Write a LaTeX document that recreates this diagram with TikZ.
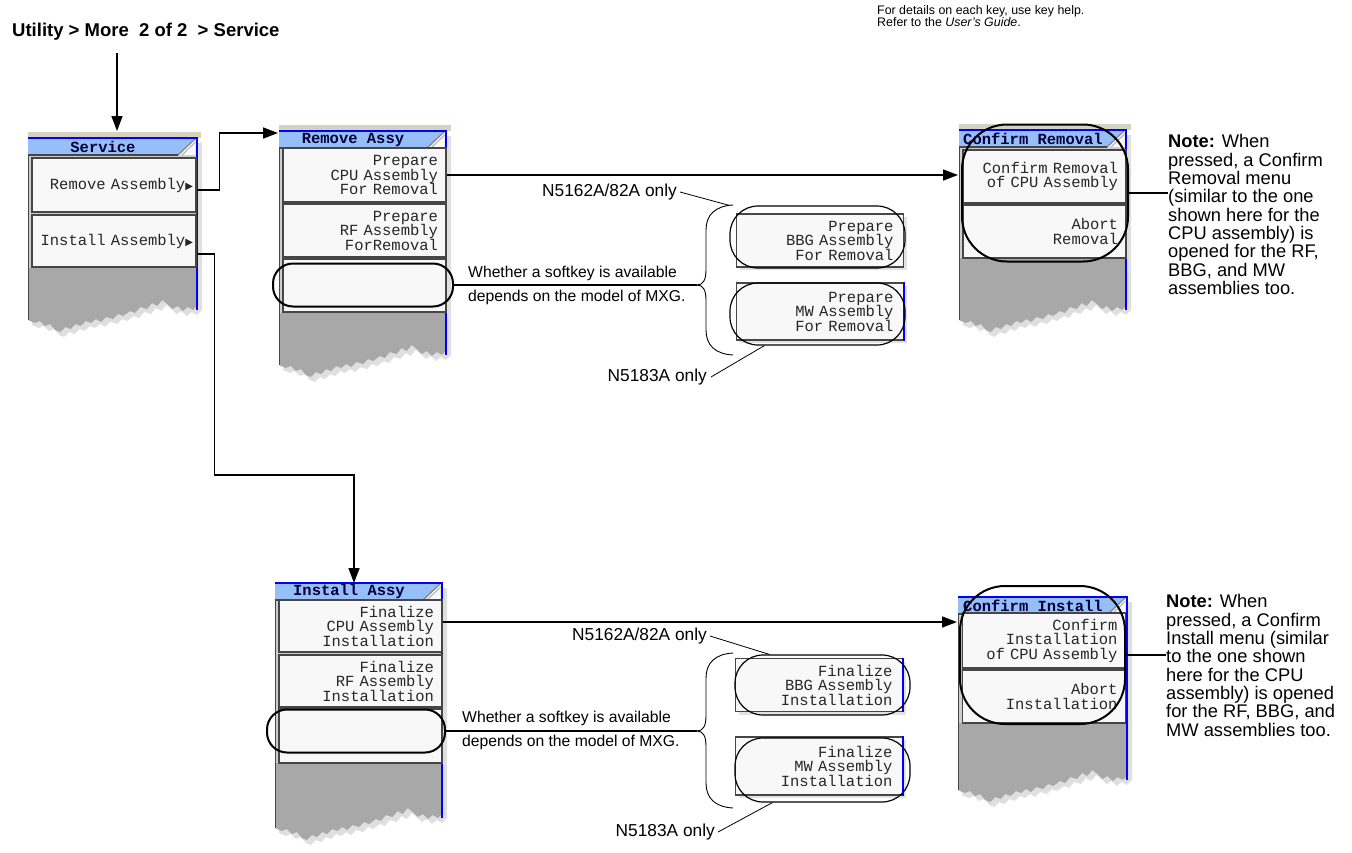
\documentclass[tikz,border=0pt]{standalone}
\usepackage{fontspec}
\setmainfont{Liberation Sans}
\newfontfamily\keyfont{Liberation Mono}
\newfontfamily\symfont{DejaVu Sans}
\usetikzlibrary{arrows.meta, positioning, shadows}

\definecolor{hdrblue}{RGB}{150,190,248}
\definecolor{keyblue}{RGB}{0,0,255}
\definecolor{keyface}{RGB}{248,248,248}
\definecolor{keyedge}{RGB}{70,70,70}
\definecolor{torngray}{RGB}{168,168,168}
\definecolor{topbeige}{RGB}{214,210,192}
\definecolor{framegray}{RGB}{205,205,205}
\definecolor{hdrtext}{RGB}{0,0,60}

% torn lower edge of a menu panel, right to left (fraction of width / offset)
\def\tornedge{1/-5,.97/0,.94/-3,.91/1,.88/-4,.85/-1,.82/-6,.79/-10,.76/-4,.73/-7,.7/-1,.66/-3,.63/3,.6/1,.56/6,.53/4,.5/9,.46/7,.43/12,.4/9,.37/13,.34/11,.31/16,.28/14,.25/19,.22/17,.19/22,.16/20,.13/14,.1/16,.07/11,.04/13,0/10}

\begin{document}
\begin{tikzpicture}[x=1pt,y=-1pt,
  conn/.style={line width=1.6pt},
  arr/.style={-{Triangle[length=15pt,width=11pt]}},
  leader/.style={line width=0.8pt},
  softkey/.style={rectangle, draw=keyedge, line width=1.2pt, fill=keyface,
    minimum width=163pt, minimum height=53pt, inner xsep=8pt, inner ysep=0pt,
    text width=147pt, align=right, text=black!85,
    font=\keyfont\fontsize{15.5}{14.5}\selectfont},
  svkey/.style={softkey, minimum width=164pt, text width=158pt, inner xsep=3pt},
  snip/.style={softkey, minimum width=167pt, text width=147pt, inner xsep=10pt,
    drop shadow={shadow xshift=3pt, shadow yshift=-3pt, fill=gray!45}},
  menutitle/.style={font=\keyfont\bfseries\fontsize{15.5}{15}\selectfont, text=hdrtext, inner sep=0pt},
  hilite/.style={rectangle, draw=black, line width=2pt, rounded corners=20pt},
  thinhilite/.style={rectangle, draw=black, line width=1.2pt, rounded corners=28pt,
    minimum width=175pt, minimum height=62pt},
  remark/.style={font=\fontsize{15.7}{18}\selectfont, inner sep=0pt, anchor=west},
  modelnote/.style={font=\fontsize{17.3}{20}\selectfont, inner sep=0pt, anchor=east},
  notetext/.style={font=\fontsize{18.3}{18.3}\selectfont, align=left, inner sep=0pt, anchor=north west}
]
\useasboundingbox (0,0) rectangle (1352,852);

% beige strip above the upper menus
\foreach \xl/\xr/\yh in {28/201/138, 279/451/131, 959/1131/130}
  \fill[topbeige] (\xl,\yh-6) rectangle (\xr,\yh);

% menu panels: left, right, title top, grey top, torn bottom
\foreach \xl/\xr/\yh/\yg/\yb in {28/198/138/268/310, 279/447/131/313/355, 959/1127/130/258/310, 275/443/583/763/818, 958/1128/597/723/780} {
  \fill[gray!25, shift={(4,5)}] (\xl,\yh) -- (\xr,\yh) \foreach \u/\v in \tornedge { -- ({\xl+\u*(\xr-\xl)},{\yb+\v}) } -- cycle;
  \fill[framegray] (\xl,\yh) rectangle (\xr,\yg);
  \fill[torngray] (\xl,\yg) -- (\xr,\yg) \foreach \u/\v in \tornedge { -- ({\xl+\u*(\xr-\xl)},{\yb+\v}) } -- cycle;
  \draw[keyedge, line width=1pt] (\xl,\yh) -- (\xl,\yb+10);
  \draw[keyblue, line width=2.5pt] (\xr-1.25,\yh) -- (\xr-1.25,\yb);
  \fill[hdrblue] (\xl,\yh) -- (\xr-3,\yh) -- (\xr-20,\yh+17) -- (\xl,\yh+17) -- cycle;
  \fill[keyface] (\xr-3,\yh) -- (\xr-2.5,\yh) -- (\xr-2.5,\yh+17) -- (\xr-20,\yh+17) -- cycle;
  \draw[gray, line width=1.2pt] (\xr-3,\yh+1) -- (\xr-20,\yh+17);
  \draw[gray!60, line width=1pt] (\xr-2.5,\yh+4) -- (\xr-16,\yh+17);
  \draw[keyedge, line width=1.2pt] (\xl,\yh+17) -- (\xr-20,\yh+17);
  \draw[keyblue, line width=1.5pt] (\xl,\yh) -- (\xr,\yh);
}

% menu titles
\node[menutitle] (svHdr) at (103,146.5) {Service};
\node[menutitle] (rmHdr) at (353,139.5) {Remove Assy};
\node[menutitle] (crHdr) at (1033,138.5) {Confirm Removal};
\node[menutitle] (isHdr) at (349,591.5) {Install Assy};
\node[menutitle] (ciHdr) at (1033,605.5) {Confirm Install};

% softkeys
\node[svkey, minimum height=54pt] (svRemove) at (114,185) {Remove Assembly{\symfont\fontsize{10}{10}\selectfont ▶}};
\node[svkey, minimum height=52pt] (svInstall) at (114,241) {Install Assembly{\symfont\fontsize{10}{10}\selectfont ▶}};

\node[softkey, minimum height=54pt] (rmCPU) at (364.5,175) {Prepare\\CPU Assembly\\For Removal};
\node[softkey] (rmRF) at (364.5,230.5) {Prepare\\RF Assembly\\ForRemoval};
\node[softkey] (rmBlank) at (364.5,285.5) {};

\node[softkey] (crConfirm) at (1044.5,176.5) {Confirm Removal\\of CPU Assembly};
\node[softkey] (crAbort) at (1044.5,231.5) {Abort\\Removal};

\node[softkey, minimum height=52pt] (isCPU) at (360.5,626) {Finalize\\CPU Assembly\\Installation};
\node[softkey, minimum height=52pt] (isRF) at (360.5,681) {Finalize\\RF Assembly\\Installation};
\node[softkey, minimum height=54pt] (isBlank) at (360.5,736) {};

\node[softkey, minimum height=55pt] (ciConfirm) at (1044,640.5) {Confirm\\Installation\\of CPU Assembly};
\node[softkey] (ciAbort) at (1044,696.5) {Abort\\Installation};

% optional softkeys
\node[snip] (rmBBG) at (820,240.5) {Prepare\\BBG Assembly\\For Removal};
\node[snip, minimum height=57pt] (rmMW) at (820,311.5) {Prepare\\MW Assembly\\For Removal};
\node[snip] (isBBG) at (819,685) {Finalize\\BBG Assembly\\Installation};
\node[snip, minimum height=58pt] (isMW) at (819,766) {Finalize\\MW Assembly\\Installation};
\foreach \k in {rmMW, isBBG, isMW}
  \draw[keyblue, line width=1.5pt] (\k.north east) -- (\k.south east);

% highlight rings
\node[hilite, minimum width=180pt, minimum height=43pt] (rmOval) at (363,285) {};
\node[hilite, minimum width=178pt, minimum height=43pt] (isOval) at (356,731) {};
\node[thinhilite] (rmBBGoval) at (817.5,237) {};
\node[thinhilite] (rmMWoval) at (817.5,314) {};
\node[thinhilite, minimum height=60pt] (isBBGoval) at (822.5,685) {};
\node[thinhilite, minimum height=64pt] (isMWoval) at (822.5,770) {};
\node[hilite, rounded corners=45pt, minimum width=166pt, minimum height=137pt] (crOval) at (1045,193) {};
\node[hilite, rounded corners=45pt, minimum width=165pt, minimum height=138pt] (ciOval) at (1042.5,655) {};

% texts
\node[anchor=west, inner sep=0pt, font=\bfseries\fontsize{18.5}{20}\selectfont] (menuPath) at (12,32) {Utility > More\ \ 2 of 2\ \ > Service};
\node[anchor=north west, inner sep=0pt, align=left, font=\fontsize{12.4}{12}\selectfont] (keyHelp) at (877,5) {For details on each key, use key help.\\Refer to the \textit{User's Guide}.};

\node[remark] (rmWhether) at (468,273) {Whether a softkey is available};
\node[remark] (rmDepends) at (468,297) {depends on the model of MXG.};
\node[remark] (isWhether) at (462,718) {Whether a softkey is available};
\node[remark] (isDepends) at (462,742) {depends on the model of MXG.};

\node[modelnote] (rmOnlyA) at (677,192) {N5162A/82A only};
\node[modelnote] (rmOnlyB) at (707,377) {N5183A only};
\node[modelnote] (isOnlyA) at (707,636) {N5162A/82A only};
\node[modelnote] (isOnlyB) at (715,832) {N5183A only};

\node[notetext] (crNote) at (1168,134.5) {\textbf{Note:} When\\pressed, a Confirm\\Removal menu\\(similar to the one\\shown here for the\\CPU assembly) is\\opened for the RF,\\BBG, and MW\\assemblies too.};
\node[notetext] (ciNote) at (1166,594.5) {\textbf{Note:} When\\pressed, a Confirm\\Install menu (similar\\to the one shown\\here for the CPU\\assembly) is opened\\for the RF, BBG, and\\MW assemblies too.};

% connectors
\coordinate (pathTip) at (117,53);
\coordinate (svIn) at (117,131);
\coordinate (rmIn) at (278,133);
\coordinate (isTurn) at (354,475);
\coordinate (isIn) at (354,583);
\coordinate (crIn) at (958,175);
\coordinate (ciIn) at (957,622);
\coordinate (rmBrace) at (697,285);
\coordinate (isBrace) at (697,731);

\draw[conn, arr] (pathTip) -- (svIn);
\draw[conn, arr] ([yshift=-5pt]svRemove.east) -- ++(23,0) |- (rmIn);
\draw[conn, arr] ([yshift=-13pt]svInstall.east) -- ++(18,0) |- (isTurn) -- (isIn);
\draw[conn, arr] (rmCPU.east) -- (crIn);
\draw[conn, arr] ([yshift=4pt]isCPU.east) -- (ciIn);
\draw[conn] (rmOval.east) -- (rmBrace);
\draw[conn] (isOval.east) -- (isBrace);
\draw[conn] (crOval.east) -- (crOval.east -| crNote.west);
\draw[conn] (ciOval.east) -- (ciOval.east -| ciNote.west);

\draw[leader] ([xshift=3pt]rmOnlyA.east) -- (rmBBGoval.north west);
\draw[leader] ([xshift=4pt]rmOnlyB.east) -- ([xshift=35pt]rmMWoval.south west);
\draw[leader] ([xshift=3pt]isOnlyA.east) -- ([xshift=35pt]isBBGoval.north west);
\draw[leader] ([xshift=3pt]isOnlyB.east) -- ([xshift=38pt]isMWoval.south west);

% braces
\foreach \b/\up/\dn in {rmBrace/80/70, isBrace/78/77} {
  \begin{scope}[shift={(\b)}]
    \draw[line width=0.9pt] (36,-\up) .. controls (18,-\up+1) and (9,-\up+10) .. (9,-\up+25)
      -- (9,-15) .. controls (9,-5) and (6,0) .. (0,0)
      .. controls (6,0) and (9,5) .. (9,15)
      -- (9,\dn-25) .. controls (9,\dn-10) and (18,\dn-1) .. (36,\dn);
  \end{scope}
}
\end{tikzpicture}
\end{document}
